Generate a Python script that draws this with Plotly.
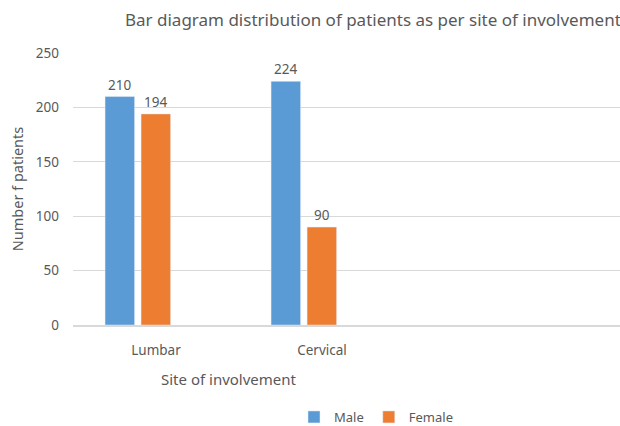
import plotly.graph_objects as go

categories = ["Lumbar", "Cervical"]
male = [210, 224]
female = [194, 90]
y_ticks = [0, 50, 100, 150, 200, 250]

FONT = "Noto Sans, Liberation Sans, sans-serif"
GREY = "#595959"

fig = go.Figure()
fig.add_trace(go.Bar(
    x=categories, y=male, name="Male", marker_color="#5B9BD5",
    offset=-0.307, width=0.178,
    text=male, textposition="outside", cliponaxis=False,
    textfont=dict(size=13.5, color=GREY, family=FONT),
))
fig.add_trace(go.Bar(
    x=categories, y=female, name="Female", marker_color="#ED7D31",
    offset=-0.090, width=0.178,
    text=female, textposition="outside", cliponaxis=False,
    textfont=dict(size=13.5, color=GREY, family=FONT),
))

fig.update_layout(
    width=620, height=426,
    barmode="overlay",
    paper_bgcolor="white", plot_bgcolor="white",
    margin=dict(l=73, r=0, t=53, b=101, autoexpand=False),
    font=dict(family=FONT, color=GREY, size=13),
    title=dict(
        text="Bar diagram distribution of patients as per site of involvement",
        xref="container", x=125 / 620, xanchor="left",
        yref="container", y=1 - 20 / 426, yanchor="middle",
        font=dict(size=17, color=GREY, family=FONT),
    ),
    xaxis=dict(
        type="category", range=[-0.5, 2.795], showgrid=False,
        showline=True, linecolor="#D9D9D9", linewidth=1.5,
        ticks="", tickfont=dict(size=13.5, color=GREY), ticklabelstandoff=12,
        automargin=False,
    ),
    yaxis=dict(
        range=[0, 250], tickvals=y_ticks, showgrid=True, gridcolor="#D9D9D9",
        zeroline=False, showline=False, ticks="",
        tickfont=dict(size=13.5, color=GREY), ticklabelstandoff=13,
        title=dict(text="Number f patients", font=dict(size=14.5, color=GREY), standoff=8),
        automargin=False,
    ),
    legend=dict(
        orientation="h", xref="container", yref="container",
        x=294 / 620, xanchor="left", y=1 - 417 / 426, yanchor="middle",
        font=dict(size=13, color=GREY), itemwidth=30,
        tracegroupgap=0,
    ),
    annotations=[dict(
        text="Site of involvement", xref="paper", yref="paper",
        x=(229 - 73) / 547, y=(325 - 379) / 272, xanchor="center", yanchor="middle",
        showarrow=False, font=dict(size=15, color=GREY, family=FONT),
    )],
)

fig.write_html("out.html", config={"displayModeBar": False},
               post_script="document.body.style.margin='0px';")
